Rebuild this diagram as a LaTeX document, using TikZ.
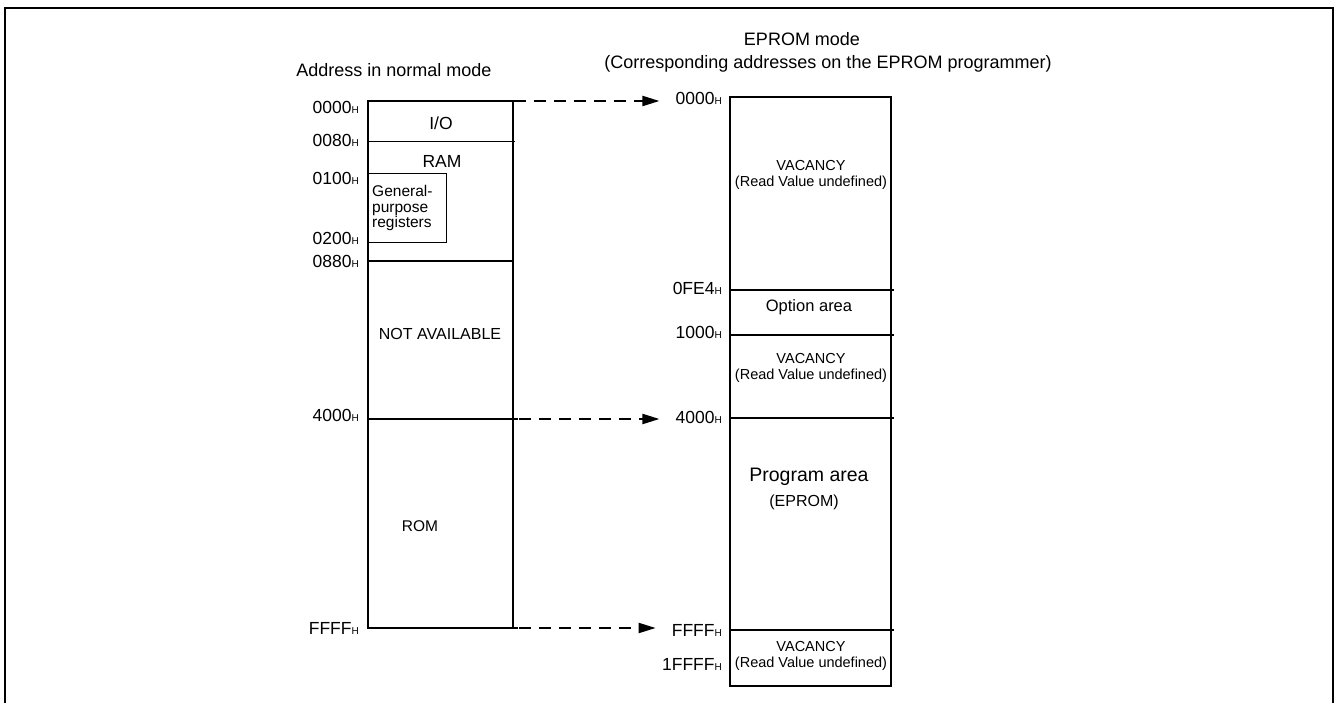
\documentclass[tikz,border=0pt]{standalone}
\usepackage{fontspec}
\setmainfont{Liberation Sans}
\usetikzlibrary{arrows.meta, positioning}
\newcommand{\hsub}[1]{#1{\fontsize{10}{10}\selectfont H}}
\tikzset{>=Triangle}

\begin{document}
\begin{tikzpicture}[
x=1pt, y=-1pt,
boxline/.style={line width=2pt},
thinline/.style={line width=0.9pt},
addrlabel/.style={
  anchor=east,
  inner sep=0pt,
  font=\fontsize{17.5}{17.5}\selectfont
  },
titletext/.style={
  inner sep=0pt,
  font=\fontsize{18}{21}\selectfont
  },
areatext/.style 2 args={
  inner sep=0pt,
  align=center,
  font=\fontsize{#1}{#2}\selectfont
  },
dasharrow/.style={
  line width=2pt,
  dash pattern=on 12pt off 8pt,
  -{Triangle[length=17pt,width=10pt]},
  shorten >=16pt
  }
]
\useasboundingbox (0,0) rectangle (1335,703);

%the frame
\draw[line width=1.5pt] (5,703) -- (5,8) -- (1333,8) -- (1333,703);

%the titles
\node[titletext] (normaltitle) at (394,70) {Address in normal mode};
\node[titletext] (epromtitle) at (802,39) {EPROM mode};
\node[titletext, below=9pt of epromtitle.south, xshift=26pt] (eprominfo)
  {(Corresponding addresses on the EPROM programmer)};

%the normal mode map
\draw[boxline] (368,101) rectangle (513,628);
\draw[thinline] (368,141) -- (515,141);
\draw[boxline] (368,261) -- (513,261);
\draw[boxline] (368,419) -- (518,419);
\draw[boxline] (513,628) -- (518,628);
\draw[thinline] (368,173) rectangle (446,242);

\node[areatext={17.5}{17.5}] (io) at (441,123) {I/O};
\node[areatext={17.5}{17.5}] (ram) at (442,161) {RAM};
\node[areatext={15.5}{15.5}, align=left, anchor=west] (gpr) at (372,208)
  {General-\\purpose\\registers};
\node[areatext={16}{16}] (notavail) at (440,334) {NOT AVAILABLE};
\node[areatext={15.5}{15.5}] (rom) at (420,526) {ROM};

\node[addrlabel] (lA0) at (359,107) {\hsub{0000}};
\node[addrlabel] (lA1) at (359,140) {\hsub{0080}};
\node[addrlabel] (lA2) at (359,178) {\hsub{0100}};
\node[addrlabel] (lA3) at (359,238) {\hsub{0200}};
\node[addrlabel] (lA4) at (359,261) {\hsub{0880}};
\node[addrlabel] (lA5) at (359,415) {\hsub{4000}};
\node[addrlabel] (lA6) at (359,628) {\hsub{FFFF}};

%the EPROM mode map
\draw[boxline] (730,97) rectangle (891,686);
\foreach \yy in {290,335,418,630}
  \draw[boxline] (730,\yy) -- (894,\yy);

\node[areatext={14.5}{16.5}] (vac1) at (811,175) {VACANCY\\(Read Value undefined)};
\node[areatext={16.5}{16.5}] (option) at (809,307) {Option area};
\node[areatext={14.5}{16.5}] (vac2) at (811,368) {VACANCY\\(Read Value undefined)};
\node[areatext={19.5}{19.5}] (program) at (809,477) {Program area};
\node[areatext={16}{16}] (eprom) at (804,502) {(EPROM)};
\node[areatext={14.5}{16.5}] (vac3) at (811,656) {VACANCY\\(Read Value undefined)};

\node[addrlabel] (rA0) at (722,98) {\hsub{0000}};
\node[addrlabel] (rA1) at (722,288) {\hsub{0FE4}};
\node[addrlabel] (rA2) at (722,332) {\hsub{1000}};
\node[addrlabel] (rA3) at (722,417) {\hsub{4000}};
\node[addrlabel] (rA4) at (722,630) {\hsub{FFFF}};
\node[addrlabel] (rA5) at (722,664) {\hsub{1FFFF}};

%the arrows between both maps
\coordinate (from0) at (514,101);
\coordinate (from1) at (519,419);
\coordinate (from2) at (519,628);
\draw[dasharrow] (from0) -- (from0 -| rA0.west);
\draw[dasharrow] (from1) -- (from1 -| rA3.west);
\draw[dasharrow] (from2) -- (from2 -| rA4.west);

\end{tikzpicture}
\end{document}
